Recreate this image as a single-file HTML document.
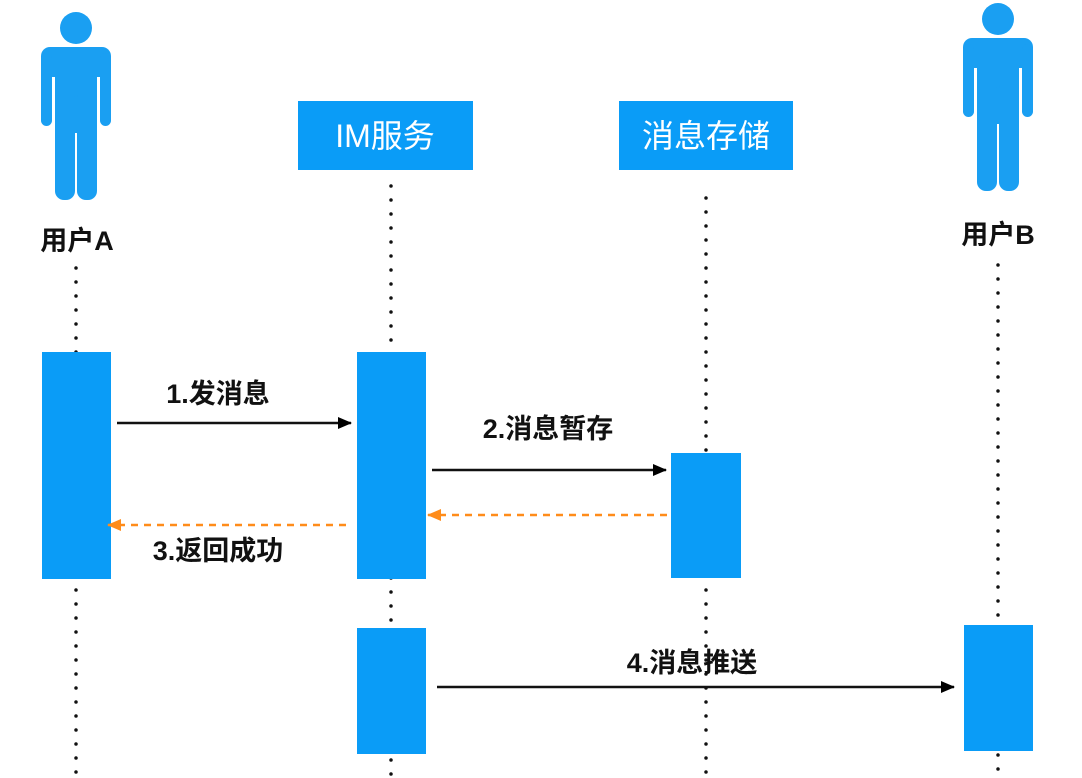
<!DOCTYPE html>
<html><head><meta charset="utf-8"><style>
html,body{margin:0;padding:0;background:#fff;}
svg{display:block;}
text{font-family:"Liberation Sans","Noto Sans CJK SC",sans-serif;}
</style></head><body>
<svg width="1082" height="778" viewBox="0 0 1082 778" xmlns="http://www.w3.org/2000/svg">
<defs>
<g id="person" fill="#1a9ff2">
  <circle cx="0" cy="0" r="16"/>
  <rect x="-35" y="19" width="70" height="30" rx="9"/>
  <rect x="-35" y="25" width="11" height="73" rx="5.5"/>
  <rect x="24" y="25" width="11" height="73" rx="5.5"/>
  <rect x="-21" y="25" width="42" height="80"/>
  <rect x="-21" y="60" width="20" height="112" rx="9"/>
  <rect x="1" y="60" width="20" height="112" rx="9"/>
</g>
<marker id="ab" markerWidth="14" markerHeight="12" refX="13" refY="6" orient="auto" markerUnits="userSpaceOnUse"><path d="M0,0 L14,6 L0,12 z" fill="#000"/></marker>
<marker id="ao" markerWidth="14" markerHeight="12" refX="13" refY="6" orient="auto" markerUnits="userSpaceOnUse"><path d="M0,0 L14,6 L0,12 z" fill="#ff8c1a"/></marker>
</defs>

<use href="#person" x="76" y="28"/>
<use href="#person" x="998" y="19"/>

<text x="77" y="250" font-size="27" font-weight="bold" text-anchor="middle" fill="#111">用户A</text>
<text x="998" y="244" font-size="27" font-weight="bold" text-anchor="middle" fill="#111">用户B</text>

<rect x="298" y="101" width="175" height="69" fill="#0a9cf7"/>
<rect x="619" y="101" width="174" height="69" fill="#0a9cf7"/>
<text x="385" y="147" font-size="32" text-anchor="middle" fill="#fff">IM服务</text>
<text x="706" y="147" font-size="32" text-anchor="middle" fill="#fff">消息存储</text>

<g stroke="#111" stroke-width="3.5" stroke-linecap="round" stroke-dasharray="0 14">
  <line x1="76" y1="268" x2="76" y2="778"/>
  <line x1="391" y1="186" x2="391" y2="778"/>
  <line x1="706" y1="198" x2="706" y2="778"/>
  <line x1="998" y1="265" x2="998" y2="778"/>
</g>

<g fill="#0a9cf7">
  <rect x="42" y="352" width="69" height="227"/>
  <rect x="357" y="352" width="69" height="227"/>
  <rect x="671" y="453" width="70" height="125"/>
  <rect x="357" y="628" width="69" height="126"/>
  <rect x="964" y="625" width="69" height="126"/>
</g>

<line x1="117" y1="423" x2="351" y2="423" stroke="#111" stroke-width="2.5" marker-end="url(#ab)"/>
<line x1="432" y1="470" x2="666" y2="470" stroke="#111" stroke-width="2.5" marker-end="url(#ab)"/>
<line x1="437" y1="687" x2="954" y2="687" stroke="#111" stroke-width="2.5" marker-end="url(#ab)"/>
<line x1="667" y1="515" x2="428" y2="515" stroke="#ff8c1a" stroke-width="2.5" stroke-dasharray="7 6" marker-end="url(#ao)"/>
<line x1="346" y1="525" x2="108" y2="525" stroke="#ff8c1a" stroke-width="2.5" stroke-dasharray="7 6" marker-end="url(#ao)"/>

<g font-size="27" font-weight="bold" fill="#111" text-anchor="middle">
  <text x="218" y="403">1.发消息</text>
  <text x="548" y="438">2.消息暂存</text>
  <text x="218" y="560">3.返回成功</text>
  <text x="692" y="672">4.消息推送</text>
</g>
</svg>
</body></html>
